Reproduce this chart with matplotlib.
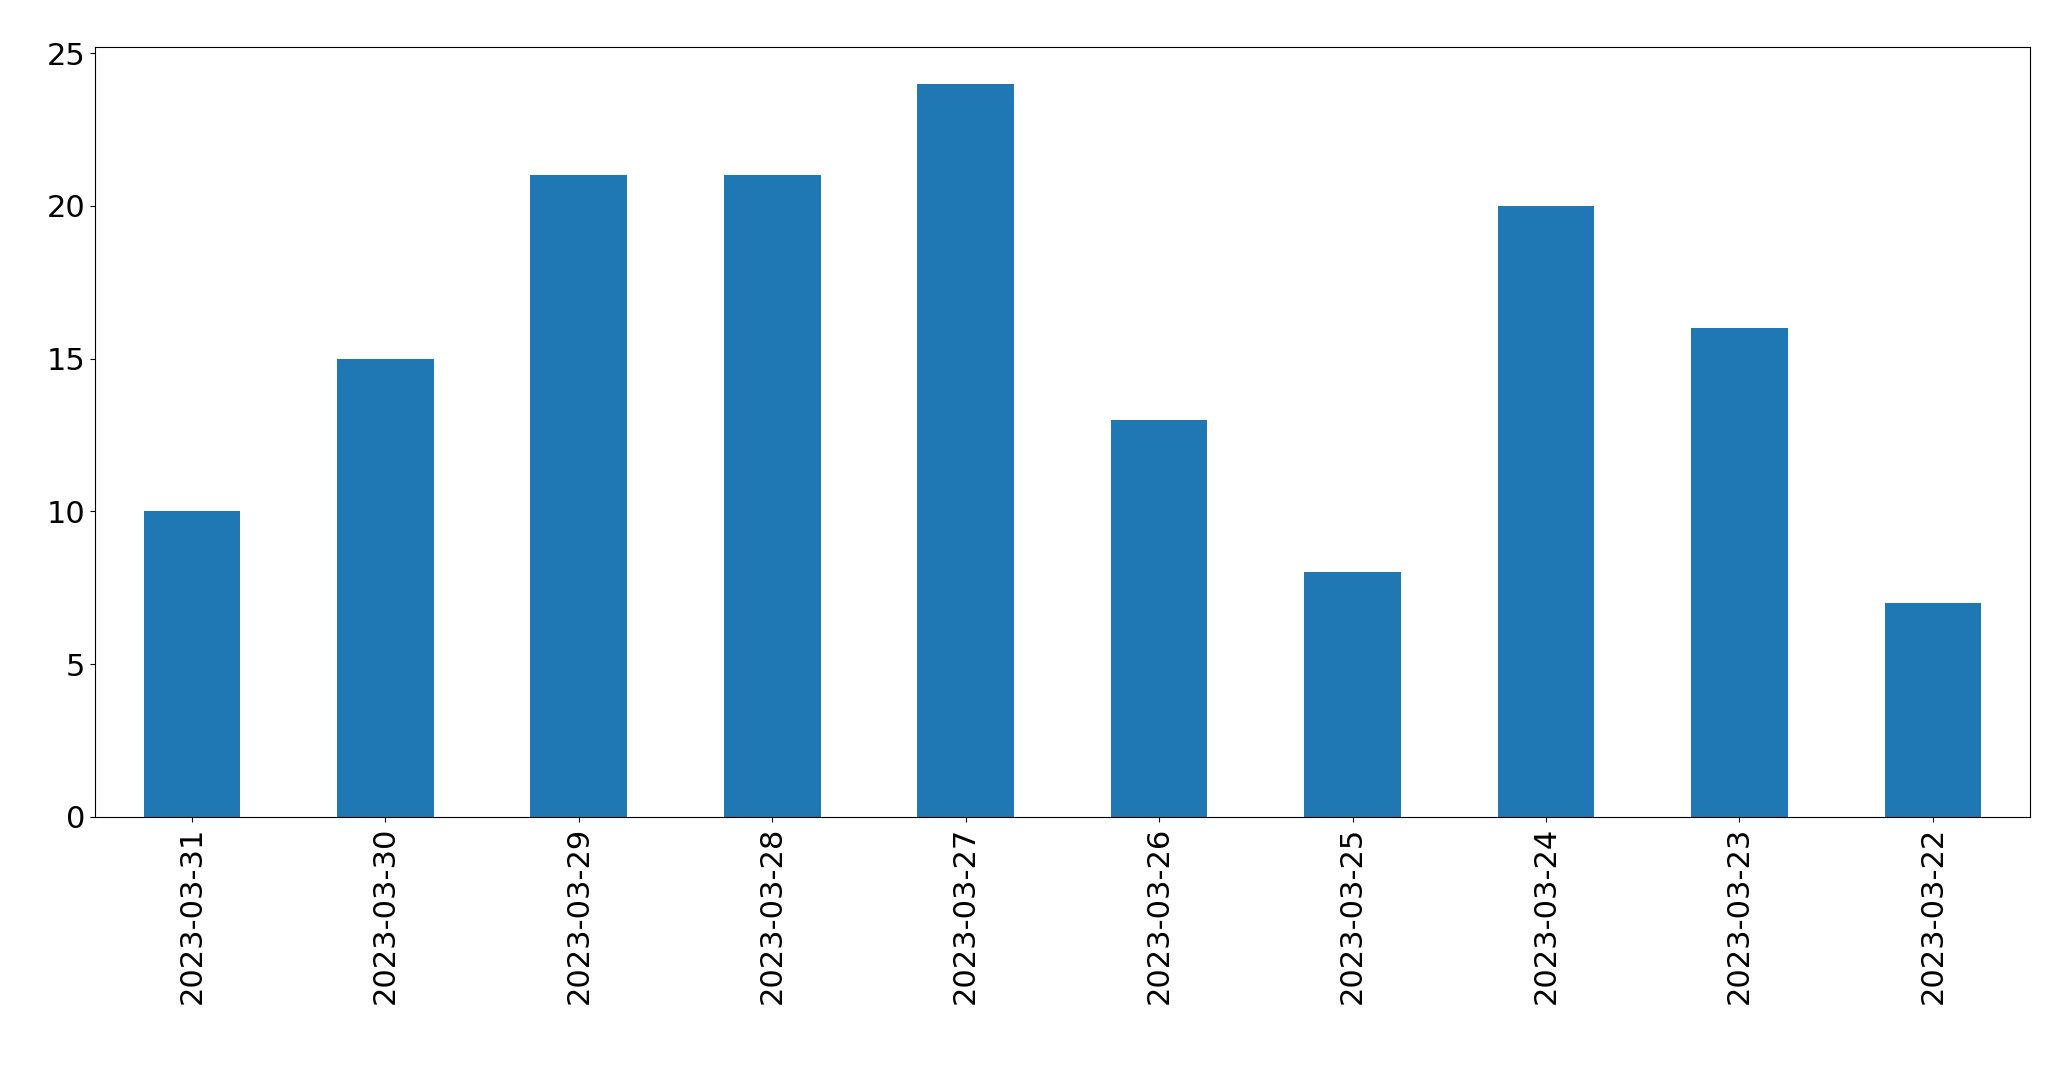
import matplotlib
matplotlib.use("Agg")
import matplotlib.pyplot as plt

dates = ["2023-03-31","2023-03-30","2023-03-29","2023-03-28","2023-03-27",
         "2023-03-26","2023-03-25","2023-03-24","2023-03-23","2023-03-22"]
counts = [10, 15, 21, 21, 24, 13, 8, 20, 16, 7]

fig = plt.figure(figsize=(20.71, 10.69), dpi=100)
ax = fig.add_axes([0.046, 0.236, 0.934, 0.72])
x = range(len(dates))
ax.bar(x, counts, width=0.5, color="#1f77b4")
ax.set_xlim(-0.5, len(dates) - 0.5)
ax.set_ylim(0, 25.2)
ax.set_xticks(list(x))
ax.set_xticklabels(dates, rotation=90)
ax.tick_params(labelsize=22)
fig.savefig("out.png", dpi=100)
